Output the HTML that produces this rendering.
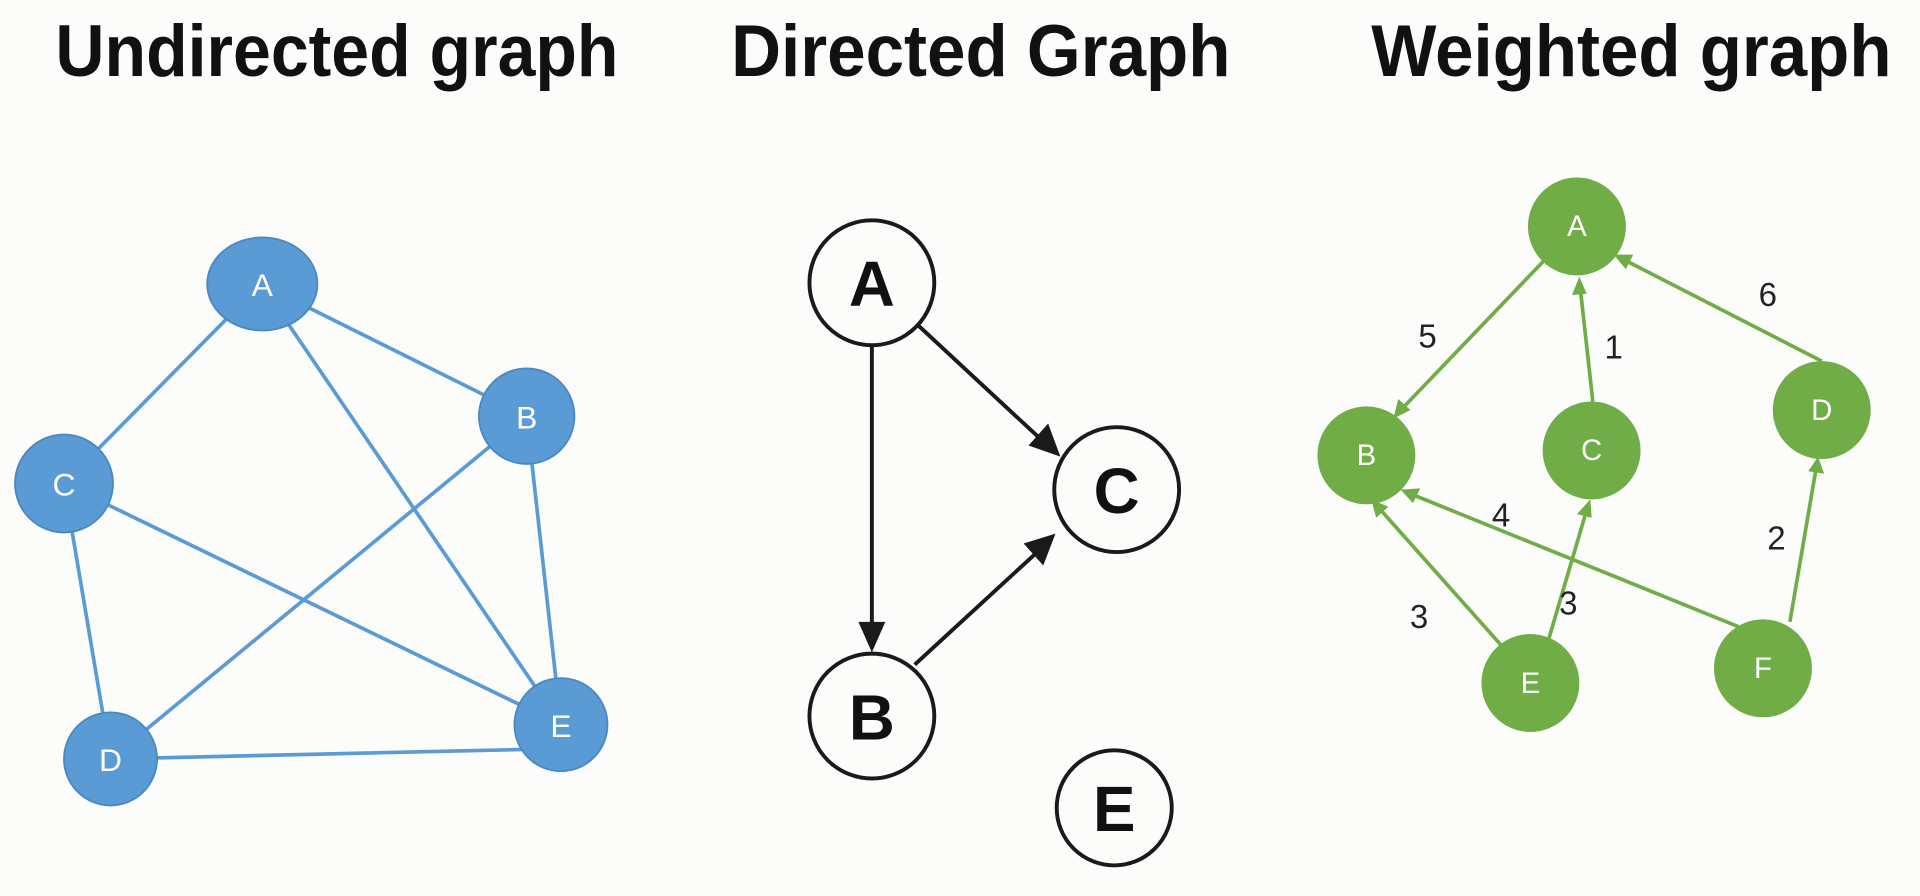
<!DOCTYPE html>
<html><head><meta charset="utf-8"><style>
html,body{margin:0;padding:0;background:#fcfcfa;}
svg{display:block;}
</style></head><body>
<svg width="1920" height="896" viewBox="0 0 1568 732" xmlns="http://www.w3.org/2000/svg">
<rect width="1568" height="732" fill="#fcfcfa"/>
<g font-family="Liberation Sans, sans-serif" font-weight="bold" fill="#111" font-size="60">
<text x="45" y="62" textLength="460" lengthAdjust="spacingAndGlyphs">Undirected graph</text>
<text x="597" y="62" textLength="408" lengthAdjust="spacingAndGlyphs">Directed Graph</text>
<text x="1120" y="62" textLength="425" lengthAdjust="spacingAndGlyphs">Weighted graph</text>
</g>

<!-- Undirected -->
<g stroke="#5b9bd5" stroke-width="3">
<line x1="213" y1="232" x2="430" y2="340"/>
<line x1="213" y1="232" x2="52" y2="395"/>
<line x1="213" y1="232" x2="458" y2="592"/>
<line x1="52" y1="395" x2="458" y2="592"/>
<line x1="52" y1="395" x2="90" y2="620"/>
<line x1="430" y1="340" x2="90" y2="620"/>
<line x1="430" y1="340" x2="458" y2="592"/>
<line x1="90" y1="620" x2="440" y2="612"/>
</g>
<g fill="#5b9bd5" stroke="#4a88c2" stroke-width="1.5">
<ellipse cx="214" cy="232" rx="45" ry="38"/>
<circle cx="430" cy="340" r="39"/>
<circle cx="52" cy="395" r="40"/>
<circle cx="90" cy="620" r="38"/>
<circle cx="458" cy="592" r="38"/>
</g>
<g font-family="Liberation Sans, sans-serif" fill="#fff" font-size="26" text-anchor="middle">
<text x="214" y="242">A</text>
<text x="430" y="350">B</text>
<text x="52" y="405">C</text>
<text x="90" y="630">D</text>
<text x="458" y="602">E</text>
</g>

<!-- Directed -->
<g stroke="#1a1a1a" stroke-width="3.2" fill="none">
<line x1="712" y1="282" x2="712" y2="512"/>
<line x1="750" y1="266" x2="848" y2="357"/>
<line x1="747" y1="543" x2="846" y2="452"/>
</g>
<g fill="#1a1a1a">
<polygon points="712,533 701,508 723,508"/>
<polygon points="866,373 840,364 856,346"/>
<polygon points="862,436 852,462 836,444"/>
</g>
<g fill="#fcfcfa" stroke="#1a1a1a" stroke-width="3.2">
<circle cx="712" cy="231" r="51"/>
<circle cx="712" cy="585" r="51"/>
<circle cx="912" cy="400" r="51"/>
<circle cx="910" cy="660" r="47"/>
</g>
<g font-family="Liberation Sans, sans-serif" font-weight="bold" fill="#111" font-size="52" text-anchor="middle">
<text x="712" y="250">A</text>
<text x="712" y="604">B</text>
<text x="912" y="419">C</text>
<text x="910" y="679">E</text>
</g>

<!-- Weighted -->
<g stroke="#70ad47" stroke-width="3">
<line x1="1262" y1="212" x2="1146" y2="333"/>
<line x1="1301" y1="328" x2="1291" y2="238"/>
<line x1="1488" y1="295" x2="1330" y2="214"/>
<line x1="1226" y1="527" x2="1128" y2="417"/>
<line x1="1265" y1="522" x2="1295" y2="420"/>
<line x1="1420" y1="512" x2="1156" y2="405"/>
<line x1="1462" y1="508" x2="1483" y2="385"/>
</g>
<g fill="#70ad47">
<polygon points="1138,342 1142,326 1152,335"/>
<polygon points="1290,226 1296,240 1284,241"/>
<polygon points="1318,208 1334,208 1328,220"/>
<polygon points="1120,408 1134,414 1124,423"/>
<polygon points="1299,408 1300,423 1288,420"/>
<polygon points="1144,400 1160,399 1154,411"/>
<polygon points="1485,373 1490,387 1477,385"/>
</g>
<g fill="#70ad47">
<circle cx="1288" cy="185" r="40"/>
<circle cx="1116" cy="372" r="40"/>
<circle cx="1300" cy="368" r="40"/>
<circle cx="1488" cy="335" r="40"/>
<circle cx="1250" cy="558" r="40"/>
<circle cx="1440" cy="546" r="40"/>
</g>
<g font-family="Liberation Sans, sans-serif" fill="#fff" font-size="24" text-anchor="middle">
<text x="1288" y="193">A</text>
<text x="1116" y="380">B</text>
<text x="1300" y="376">C</text>
<text x="1488" y="343">D</text>
<text x="1250" y="566">E</text>
<text x="1440" y="554">F</text>
</g>
<g font-family="Liberation Sans, sans-serif" fill="#222" font-size="27" text-anchor="middle">
<text x="1166" y="284">5</text>
<text x="1318" y="293">1</text>
<text x="1444" y="250">6</text>
<text x="1226" y="430">4</text>
<text x="1451" y="449">2</text>
<text x="1159" y="513">3</text>
<text x="1281" y="502">3</text>
</g>
</svg>
</body></html>
